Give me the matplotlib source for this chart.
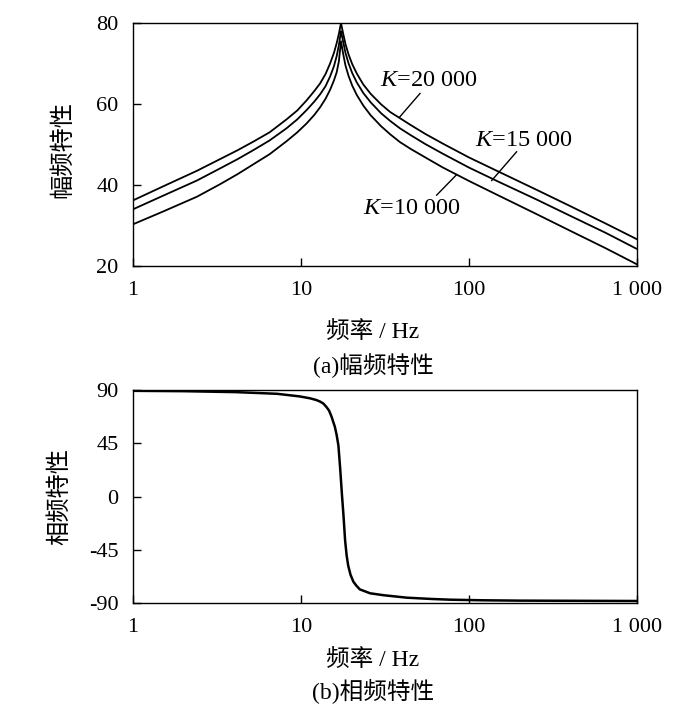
import matplotlib
matplotlib.use('Agg')
import matplotlib.pyplot as plt

plt.rcParams['font.family'] = ['Liberation Serif', 'Noto Sans CJK SC']
plt.rcParams['mathtext.fontset'] = 'custom'
plt.rcParams['mathtext.it'] = 'Liberation Serif:italic'
plt.rcParams['mathtext.rm'] = 'Liberation Serif'
plt.rcParams['axes.unicode_minus'] = False

# frequency grid (Hz)
freq = [1, 1.5, 2.4, 3.3, 4.2, 5.2, 6.5, 8.2, 9.5, 10.8, 12, 13, 14, 14.9, 15.7, 16.3,
        16.8, 17.3, 17.8, 18.4, 19.2, 20.2, 21.5, 23.5, 26, 30, 34, 38.8, 45, 55, 70,
        100, 150, 250, 400, 650, 1000]

amp_20000 = [36.2, 39.6, 43.5, 46.4, 48.6, 50.7, 53.0, 56.2, 58.4, 60.9, 63.2, 65.1, 67.4,
             70.0, 72.6, 75.0, 77.3, 80, 77.5, 74.8, 72.2, 69.8, 67.5, 64.8, 62.5, 59.9,
             58.0, 56.5, 54.8, 52.6, 50.2, 46.8, 43.3, 38.9, 34.8, 30.5, 26.6]
amp_15000 = [34.0, 37.3, 41.1, 44.1, 46.4, 48.6, 51.0, 54.0, 56.2, 58.5, 60.6, 62.4, 64.4,
             66.8, 69.3, 71.8, 74.5, 78, 75.5, 72.6, 70.0, 67.6, 65.3, 62.7, 60.4, 57.7,
             55.8, 54.0, 52.3, 50.1, 47.7, 44.3, 40.8, 36.5, 32.4, 28.2, 24.2]
amp_10000 = [30.3, 33.4, 37.1, 40.2, 42.7, 45.1, 47.6, 50.8, 53.0, 55.2, 57.3, 59.2, 61.3,
             63.5, 65.8, 67.8, 70.5, 75.5, 72.5, 69.5, 66.9, 64.5, 62.2, 59.6, 57.2, 54.5,
             52.5, 50.6, 48.9, 46.8, 44.3, 41.0, 37.4, 32.9, 28.7, 24.4, 20.4]

phase_f = [1, 2, 4.1, 7.2, 9.8, 11.3, 12.3, 13, 13.6, 14.2, 14.7, 15.2, 15.6, 15.9, 16.3,
           16.7, 17.1, 17.5, 17.9, 18.3, 18.7, 19.1, 19.7, 20.5, 21.4, 22.4, 25.8, 30.9,
           42.6, 60, 77, 120, 200, 1000]
phase = [89.3, 89.0, 88.2, 86.8, 84.6, 83.0, 81.6, 80.2, 78.5, 75.5, 72.5, 67.5, 62.5,
         59, 52, 43, 24, 3, -16, -37, -50, -58.5, -66, -72, -75.5, -78.5, -81.8, -83.4,
         -85.5, -86.6, -87.2, -87.7, -88, -88.3]

x_ticks = [1, 10, 100, 1000]
x_labels = ['1', '10', '100', '1 000']
amp_ticks = [20, 40, 60, 80]
phase_ticks = [-90, -45, 0, 45, 90]

cjk = ['Liberation Serif', 'Noto Sans CJK SC']


def style(ax):
    ax.set_xscale('log')
    ax.set_xlim(1, 1000)
    ax.set_xticks(x_ticks)
    ax.set_xticklabels(x_labels)
    ax.minorticks_off()
    ax.tick_params(direction='in', length=6, width=1, labelsize=16, pad=10.5,
                   top=False, right=False)
    for s in ax.spines.values():
        s.set_linewidth(1)


fig = plt.figure(figsize=(7, 7.17), dpi=100)
ax1 = fig.add_axes([133/700, 1-266/717, 504/700, 243/717])
ax2 = fig.add_axes([133/700, 1-603/717, 504/700, 213/717])

for a in (amp_20000, amp_15000, amp_10000):
    ax1.plot(freq, a, color='k', lw=1.3)
style(ax1)
ax1.set_ylim(20, 80)
ax1.set_yticks(amp_ticks)
ax1.set_ylabel('幅频特性', family='Noto Sans CJK SC', fontsize=17.5)
ax1.yaxis.set_label_coords(-0.115, 0.48)

# labels with leader lines
ax1.text(29.5, 65.9, '$K$=20 000', fontsize=17.5, va='center', ha='left')
ax1.plot([51.1, 38.5], [62.6, 56.7], color='k', lw=1)
ax1.text(108.6, 51.1, '$K$=15 000', fontsize=17.5, va='center', ha='left')
ax1.plot([192, 136.5], [48.2, 41.1], color='k', lw=1)
ax1.text(23.4, 34.1, '$K$=10 000', fontsize=17.5, va='center', ha='left')
ax1.plot([64.2, 83.7], [37.5, 42.4], color='k', lw=1)

ax2.plot(phase_f, phase, color='k', lw=1.8)
style(ax2)
ax2.set_ylim(-90, 90)
ax2.set_yticks(phase_ticks)
ax2.set_ylabel('相频特性', family='Noto Sans CJK SC', fontsize=17.5)
ax2.yaxis.set_label_coords(-0.12, 0.5)

fig.text(373/700, 1-332/717, '频率 / Hz', family=cjk, fontsize=17, ha='center', va='center')
fig.text(373/700, 1-366/717, '(a)幅频特性', family=cjk, fontsize=17, ha='center', va='center')
fig.text(373/700, 1-660/717, '频率 / Hz', family=cjk, fontsize=17, ha='center', va='center')
fig.text(373/700, 1-692/717, '(b)相频特性', family=cjk, fontsize=17, ha='center', va='center')

fig.savefig('out.png', dpi=100)
